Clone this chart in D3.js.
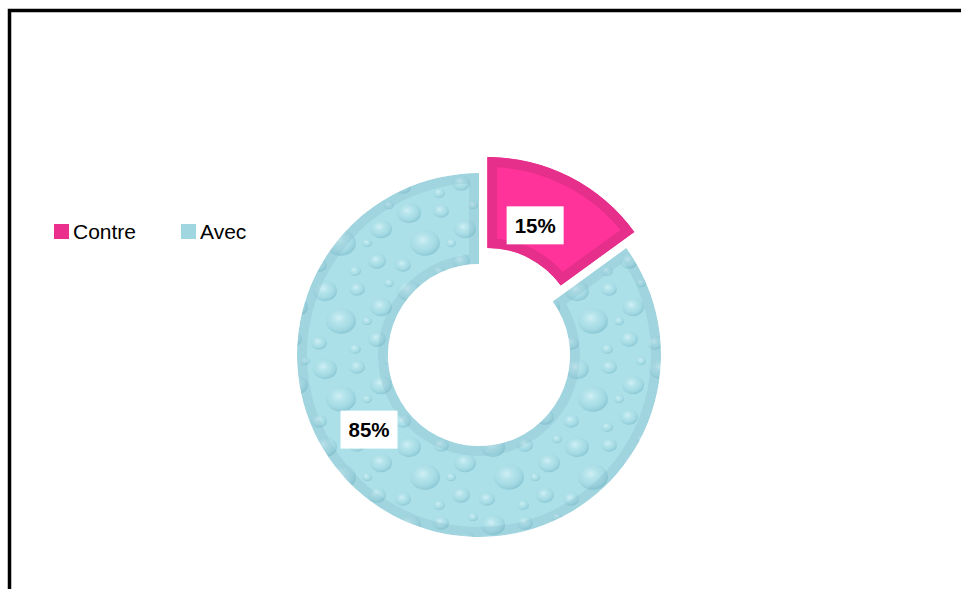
<!DOCTYPE html>
<html lang="fr">
<head>
<meta charset="utf-8">
<script src="https://d3js.org/d3.v7.min.js"></script>
<style>
  html, body { margin: 0; padding: 0; background: #fff; overflow: hidden; }
  text { font-family: "Liberation Sans", Arial, sans-serif; }
</style>
</head>
<body>
<div id="chart"></div>
<script>
"use strict";
// donnees
const categories = ["Contre", "Avec"];
const valeurs = [15, 85];
const etiquettes = ["15%", "85%"];

const largeur = 961, hauteur = 589;
const cx = 479, cy = 355, rayonExt = 182, rayonInt = 91;
const eclatement = 18;                       // tranche "Contre" detachee
const decalageEtiq = [[-14, 8], [-48, -47]]; // etiquettes deplacees a la main

const svg = d3.select("#chart").append("svg")
  .attr("width", largeur).attr("height", hauteur);

const defs = svg.append("defs");

// texture gouttes d'eau
const grad = defs.append("radialGradient").attr("id", "goutte")
  .attr("cx", "0.42").attr("cy", "0.38").attr("r", "0.62");
grad.append("stop").attr("offset", "0%").attr("stop-color", "#d9f4f8").attr("stop-opacity", 0.8);
grad.append("stop").attr("offset", "60%").attr("stop-color", "#a6dbe5").attr("stop-opacity", 0.4);
grad.append("stop").attr("offset", "100%").attr("stop-color", "#82c1cf").attr("stop-opacity", 0.75);

const motif = defs.append("pattern").attr("id", "eau")
  .attr("patternUnits", "userSpaceOnUse")
  .attr("width", 84).attr("height", 78);
motif.append("rect").attr("width", 84).attr("height", 78).attr("fill", "#ace0e8");
const gouttes = [[14, 14, 12], [46, 12, 8], [70, 30, 11], [30, 44, 15], [66, 62, 9], [8, 66, 8], [44, 72, 6], [78, 6, 5], [56, 44, 5]];
motif.selectAll("ellipse").data(gouttes).join("ellipse")
  .attr("cx", d => d[0]).attr("cy", d => d[1])
  .attr("rx", d => d[2]).attr("ry", d => d[2] * 0.85)
  .attr("fill", "url(#goutte)");

// cadre
svg.append("rect")
  .attr("x", 9.5).attr("y", 10.5)
  .attr("width", largeur + 20).attr("height", hauteur + 20)
  .attr("fill", "none").attr("stroke", "#000").attr("stroke-width", 3.5);

const pie = d3.pie().sort(null).value(d => d);
const arcs = pie(valeurs);
const arc = d3.arc().innerRadius(rayonInt).outerRadius(rayonExt);

const remplissage = ["#ff3399", "url(#eau)"];
const bordure = ["#e52f8b", "rgba(120,175,190,0.22)"];

const g = svg.append("g").attr("transform", `translate(${cx},${cy})`);

function decal(d, i) {
  if (i !== 0) return [0, 0];
  const m = (d.startAngle + d.endAngle) / 2;
  return [eclatement * Math.sin(m), -eclatement * Math.cos(m)];
}

arcs.forEach((d, i) => {
  defs.append("clipPath").attr("id", "clip" + i)
    .append("path").attr("d", arc(d));
  const [dx, dy] = decal(d, i);
  const t = g.append("g").attr("transform", `translate(${dx},${dy})`);
  t.append("path")
    .attr("d", arc(d))
    .attr("fill", remplissage[i])
    .attr("stroke", bordure[i])
    .attr("stroke-width", 20)
    .attr("clip-path", `url(#clip${i})`);
});

// etiquettes
arcs.forEach((d, i) => {
  const [dx, dy] = decal(d, i);
  const c = arc.centroid(d);
  const x = c[0] + dx + decalageEtiq[i][0];
  const y = c[1] + dy + decalageEtiq[i][1];
  g.append("rect")
    .attr("x", x - 28.5).attr("y", y - 19)
    .attr("width", 57).attr("height", 38)
    .attr("fill", "#fff");
  g.append("text")
    .attr("x", x).attr("y", y)
    .attr("dy", "0.36em")
    .attr("text-anchor", "middle")
    .attr("font-size", 20.5).attr("font-weight", "bold")
    .attr("fill", "#000")
    .text(etiquettes[i]);
});

// legende
const legende = svg.append("g").attr("transform", "translate(54,224)");
const pasLegende = [0, 127];
categories.forEach((c, i) => {
  const e = legende.append("g").attr("transform", `translate(${pasLegende[i]},0)`);
  e.append("rect").attr("width", 15).attr("height", 15)
    .attr("fill", i === 0 ? "#ea2f8d" : "#9fd6df");
  e.append("text").attr("x", 19).attr("y", 14.5)
    .attr("font-size", 21).attr("fill", "#000")
    .text(c);
});
</script>
</body>
</html>
